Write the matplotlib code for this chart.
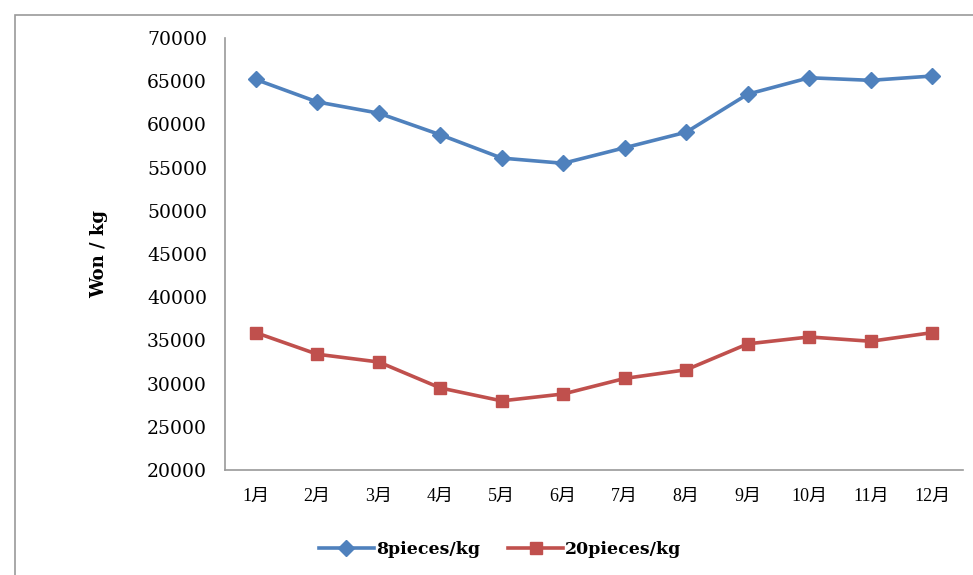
import matplotlib
matplotlib.use("Agg")
import matplotlib.pyplot as plt
from matplotlib.patches import Rectangle

months = ["1月", "2月", "3月", "4月", "5月", "6月", "7月", "8月", "9月", "10月", "11月", "12月"]
pieces8 = [65200, 62600, 61300, 58800, 56100, 55500, 57300, 59100, 63500, 65400, 65100, 65600]
pieces20 = [35900, 33400, 32500, 29500, 28000, 28800, 30600, 31600, 34600, 35400, 34900, 35900]
yticks = list(range(20000, 70001, 5000))

serif = ["DejaVu Serif"]
cjk = ["Liberation Serif", "Noto Sans CJK JP", "DejaVu Sans"]

fig = plt.figure(figsize=(9.73, 5.75), dpi=100)
fig.patches.append(Rectangle((15 / 973, -0.1), 1.2, (575 - 15) / 575 + 0.1,
                             transform=fig.transFigure, fill=False,
                             edgecolor="#9a9a9a", linewidth=1.2))

ax = fig.add_axes([225 / 973, 1 - 470 / 575, 738 / 973, (470 - 38) / 575])
x = list(range(len(months)))
ax.plot(x, pieces8, color="#4F81BD", linewidth=2.6, marker="D", markersize=8.5,
        label="8pieces/kg")
ax.plot(x, pieces20, color="#C0504D", linewidth=2.6, marker="s", markersize=9,
        label="20pieces/kg")

ax.set_xlim(-0.5, len(months) - 0.5)
ax.set_ylim(20000, 70000)
ax.set_yticks(yticks)
ax.set_yticklabels([str(v) for v in yticks], fontfamily=serif, fontsize=13.5)
ax.set_xticks(x)
ax.set_xticklabels(months, fontfamily=cjk, fontsize=13)
ax.tick_params(axis="x", length=0, pad=13)
ax.tick_params(axis="y", length=0, pad=13)

for s in ("top", "right"):
    ax.spines[s].set_visible(False)
for s in ("left", "bottom"):
    ax.spines[s].set_color("#9a9a9a")
    ax.spines[s].set_linewidth(1.2)

ax.set_ylabel("Won / kg", fontfamily=serif, fontweight="bold", fontsize=13,
              labelpad=28)

fig.legend(loc="center", bbox_to_anchor=(500 / 973, 1 - 550 / 575), ncol=2,
           frameon=False, prop={"family": serif, "weight": "bold", "size": 12.5},
           handlelength=3.2, columnspacing=1.6, handletextpad=0.1)

fig.savefig("out.png", dpi=100)
